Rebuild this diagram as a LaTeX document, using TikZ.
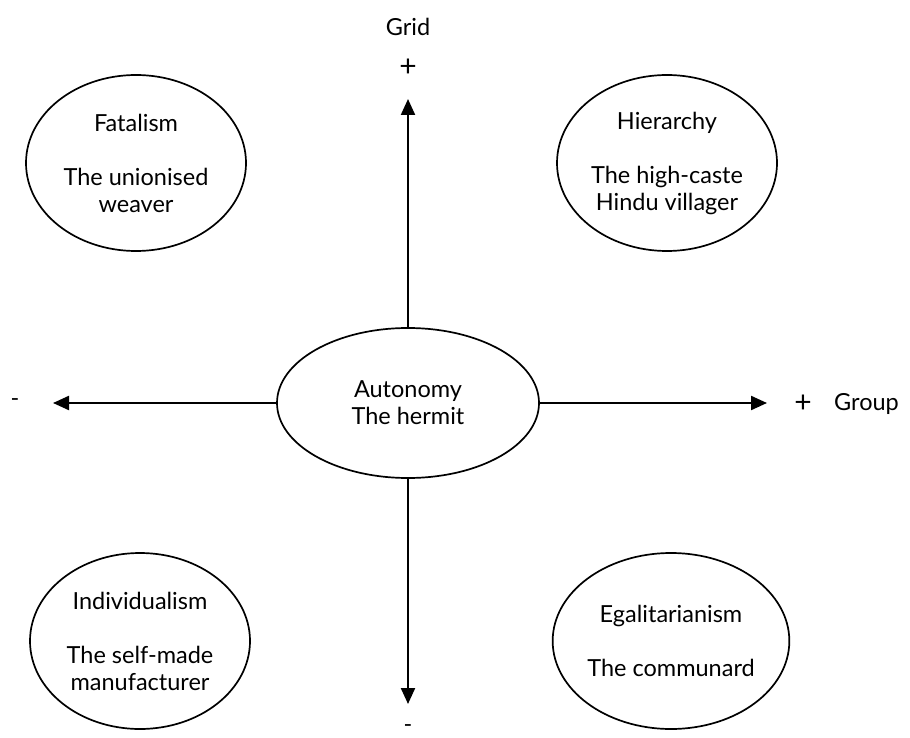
\documentclass[tikz,border=0pt]{standalone}
\usepackage{fontspec}
\setmainfont{Lato}
\usetikzlibrary{arrows.meta,shapes.geometric}
\begin{document}
\begin{tikzpicture}[x=1pt,y=-1pt,
  txt/.style={font=\fontsize{23.5}{27}\selectfont, inner sep=0pt},
  sign/.style={font=\fontsize{30}{30}\selectfont, inner sep=0pt},
  oval/.style={txt, draw, ellipse, line width=1.7pt, align=center,
    minimum width=220pt, minimum height=176pt},
  axis/.style={line width=2.2pt, -{Triangle[length=16pt,width=14pt]}}]
\useasboundingbox (0,0) rectangle (910,738);

% centre: the autonomous position
\node[txt, draw, ellipse, line width=1.7pt, align=center,
  minimum width=262pt, minimum height=150pt] (auto) at (408,403)
  {Autonomy\\The hermit};

% the four cultural biases
\node[oval] (fat) at (136,163) {Fatalism\\[27pt]The unionised\\weaver};
\node[oval] (hier) at (667,163) {Hierarchy\\[27pt]The high-caste\\Hindu villager};
\node[oval] (indiv) at (140,641) {Individualism\\[27pt]The self-made\\manufacturer};
\node[oval] (egal) at (671,641) {Egalitarianism\\[27pt]The communard};

% ends of the grid and group axes
\coordinate (up) at (408,99);
\coordinate (down) at (408,704);
\coordinate (left) at (53,403);
\coordinate (right) at (767,403);

\draw[axis] (auto.north) -- (up);
\draw[axis] (auto.south) -- (down);
\draw[axis] (auto.west) -- (left);
\draw[axis] (auto.east) -- (right);

% axis labels
\node[txt] (gridlbl) at (408,27) {Grid};
\node[sign] (gridplus) at (408,68) {+};
\node[txt] (gridminus) at (408,729) {-};
\node[txt] (grpminus) at (15,403) {-};
\node[sign] (grpplus) at (803,404) {+};
\node[txt, anchor=west] (grplbl) at (834,404) {Group};
\end{tikzpicture}
\end{document}
